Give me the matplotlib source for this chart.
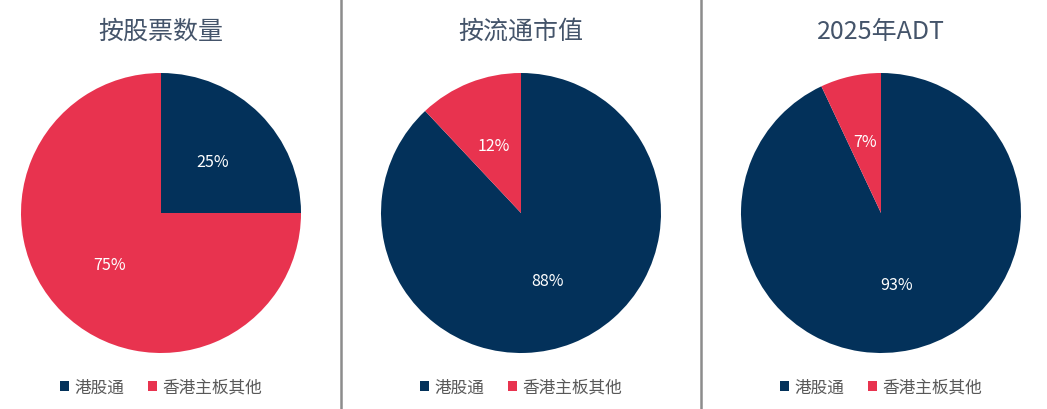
import matplotlib.pyplot as plt
from matplotlib.lines import Line2D
from matplotlib.patches import Patch

plt.rcParams['font.family'] = ['Noto Sans CJK SC', 'DejaVu Sans']

titles = ['按股票数量', '按流通市值', '2025年ADT']
labels = ['港股通', '香港主板其他']
shares = [
    [25, 75],
    [88, 12],
    [93, 7],
]
colors = ['#03315A', '#E8334F']

W, H = 1047, 410
fig = plt.figure(figsize=(W / 100, H / 100), dpi=100)

centers_x = [161, 521, 881]
cy = 214
r = 140

for i, (title, vals) in enumerate(zip(titles, shares)):
    cx = centers_x[i]
    ax = fig.add_axes([(cx - r) / W, (H - cy - r) / H, 2 * r / W, 2 * r / H])
    wedges, _, autotexts = ax.pie(vals, colors=colors, startangle=90, counterclock=False,
                                  autopct='%d%%', pctdistance=0.52, radius=1,
                                  textprops=dict(color='white', fontsize=11.5))
    ax.set_xlim(-1, 1)
    ax.set_ylim(-1, 1)
    ax.set_aspect('equal')
    ax.axis('off')
    fig.text(cx / W, (H - 32) / H, title, ha='center', va='center',
             fontsize=18, fontweight='medium', color='#44546A')
    handles = [Patch(facecolor=c, edgecolor='none') for c in colors]
    fig.legend(handles, labels, loc='center', bbox_to_anchor=(cx / W, (H - 388) / H),
               ncol=2, frameon=False, fontsize=12, handlelength=0.55, handleheight=0.55,
               handletextpad=0.35, columnspacing=1.4, labelcolor='#595959')

for sx in [341, 701]:
    fig.add_artist(Line2D([sx / W, sx / W], [0, 1], color='#8C8C8C', linewidth=1.8))

fig.savefig('out.png', dpi=100, facecolor='white')
